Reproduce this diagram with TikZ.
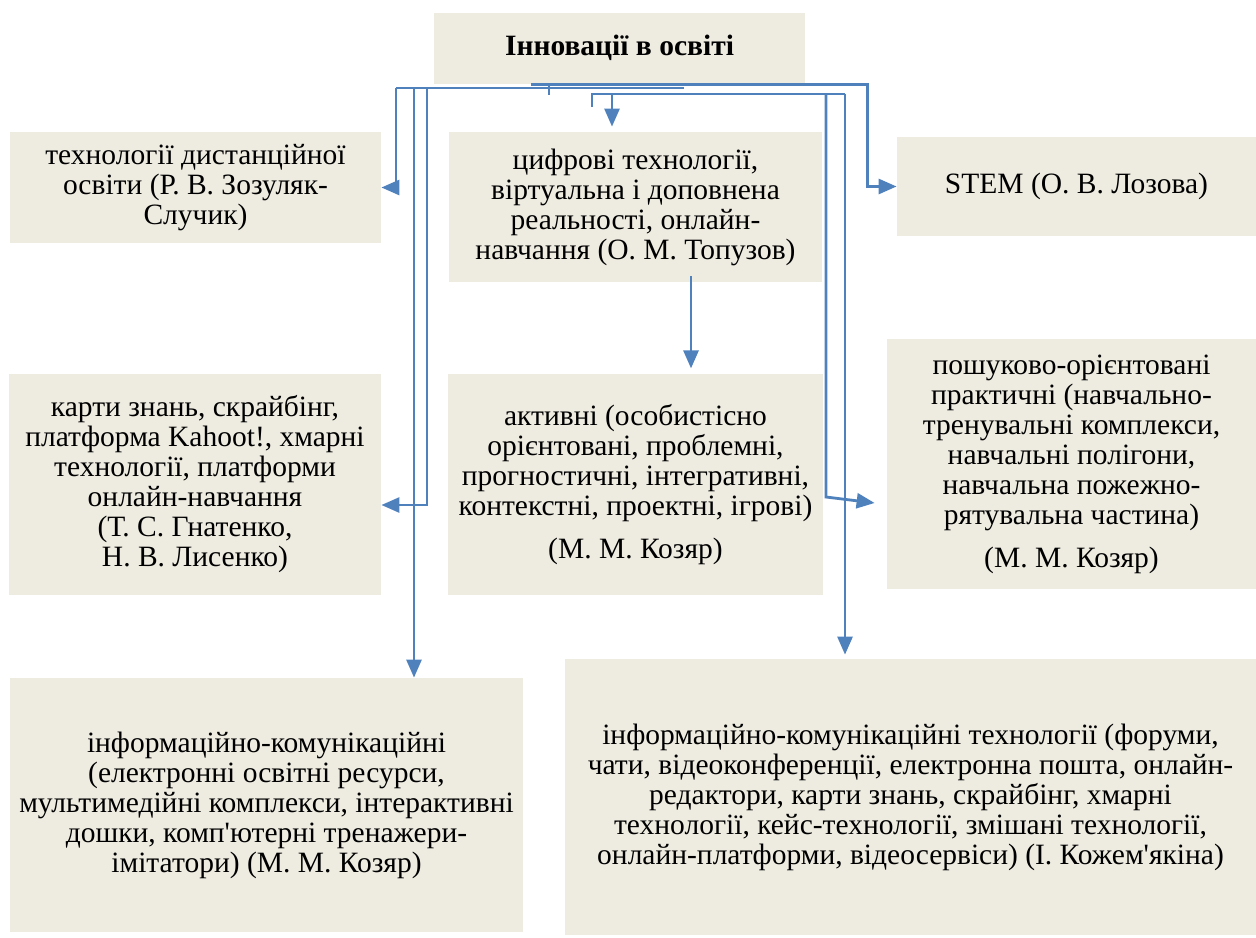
\documentclass[tikz,border=0pt]{standalone}
\usepackage{fontspec}
\setmainfont{Liberation Serif}
\usetikzlibrary{arrows.meta, positioning, calc}
\definecolor{boxfill}{HTML}{EEECE1}
\definecolor{linkblue}{HTML}{4F81BD}

\begin{document}
\begin{tikzpicture}[
    x=0.5pt, y=-0.5pt,
    box/.style={fill=boxfill, align=center, inner sep=0pt,
                font=\fontsize{14.75}{15}\selectfont},
    link/.style={draw=linkblue, line width=1.4pt,
                 -{Triangle[length=9pt, width=7.5pt]}},
    bus/.style={draw=linkblue, line width=1.4pt},
]
    \useasboundingbox (0,0) rectangle (1256,937);

    % Root
    \node[box, minimum width=185.5pt, minimum height=35.75pt] (innov) at (619.5,48.25)
        {\textbf{Інновації в освіті}};

    % First row
    \node[box, minimum width=185.5pt, minimum height=55.5pt] (distant) at (195.5,187.5)
        {технології дистанційної\\освіти (Р. В. Зозуляк-\\Случик)};
    \node[box, minimum width=186.5pt, minimum height=75pt] (digital) at (635.5,207)
        {цифрові технології,\\віртуальна і доповнена\\реальності, онлайн-\\навчання (О. М. Топузов)};
    \node[box, minimum width=179.5pt, minimum height=49.5pt] (stem) at (1076.5,186.5)
        {STEM (О. В. Лозова)};

    % Second row
    \node[box, minimum width=186pt, minimum height=110.5pt] (maps) at (195,484.5)
        {карти знань, скрайбінг,\\платформа Kahoot!, хмарні\\технології, платформи\\онлайн-навчання\\(Т. С. Гнатенко,\\Н. В. Лисенко)};
    \node[box, minimum width=187.5pt, minimum height=110.5pt, below=45.5pt of digital] (active)
        {активні (особистісно\\орієнтовані, проблемні,\\прогностичні, інтегративні,\\контекстні, проектні, ігрові)\\[6.5pt](М. М. Козяр)};
    \node[box, minimum width=184.5pt, minimum height=125pt] (search) at (1071.5,464)
        {пошуково-орієнтовані\\практичні (навчально-\\тренувальні комплекси,\\навчальні полігони,\\навчальна пожежно-\\рятувальна частина)\\[6.5pt](М. М. Козяр)};

    % Third row
    \node[box, minimum width=256.5pt, minimum height=127pt] (ictleft) at (266.5,805)
        {інформаційно-комунікаційні\\(електронні освітні ресурси,\\мультимедійні комплекси, інтерактивні\\дошки, комп\textquotesingle ютерні тренажери-\\імітатори) (М. М. Козяр)};
    \node[box, minimum width=345.5pt, minimum height=138pt] (ictright) at (910.5,797)
        {інформаційно-комунікаційні технології (форуми,\\чати, відеоконференції, електронна пошта, онлайн-\\редактори, карти знань, скрайбінг, хмарні\\технології, кейс-технології, змішані технології,\\онлайн-платформи, відеосервіси) (І. Кожем\textquotesingle якіна)};

    % Bus points
    \coordinate (busw) at (396,88);
    \coordinate (buse) at (684,88);
    \coordinate (dropg) at (414,88);
    \coordinate (dropm) at (427,88);
    \coordinate (bus2w) at (592,94);
    \coordinate (bus2e) at (845,94);
    \coordinate (dropd) at (612,94);
    \coordinate (dropf) at (826,94);
    \coordinate (dropa) at (691,276);

    % Connections
    \draw[link] (innov.south -| 531,0) -| ($(stem.west)+(-29,0)$) -- (stem.west);
    \draw[bus] (innov.south -| 549,0) -- ++(0,11);
    \draw[bus] (busw) -- (buse);
    \draw[link] (busw) |- (distant.east);
    \draw[link] (dropg) -- (dropg |- ictleft.north);
    \draw[link] (dropm) |- ($(maps.east)+(0,20.5)$);
    \draw[bus] ($(bus2w)+(0,13)$) -- (bus2w) -- (bus2e);
    \draw[link, shorten >=2.5pt] (dropd) -- (dropd |- digital.north);
    \draw[link] (dropf) -- (dropf |- 0,497) -- ($(search.west)+(-12,39)$);
    \draw[link, shorten >=2pt] (bus2e) -- (bus2e |- ictright.north);
    \draw[link, shorten >=2.5pt] (dropa) -- (dropa |- active.north);
\end{tikzpicture}
\end{document}
